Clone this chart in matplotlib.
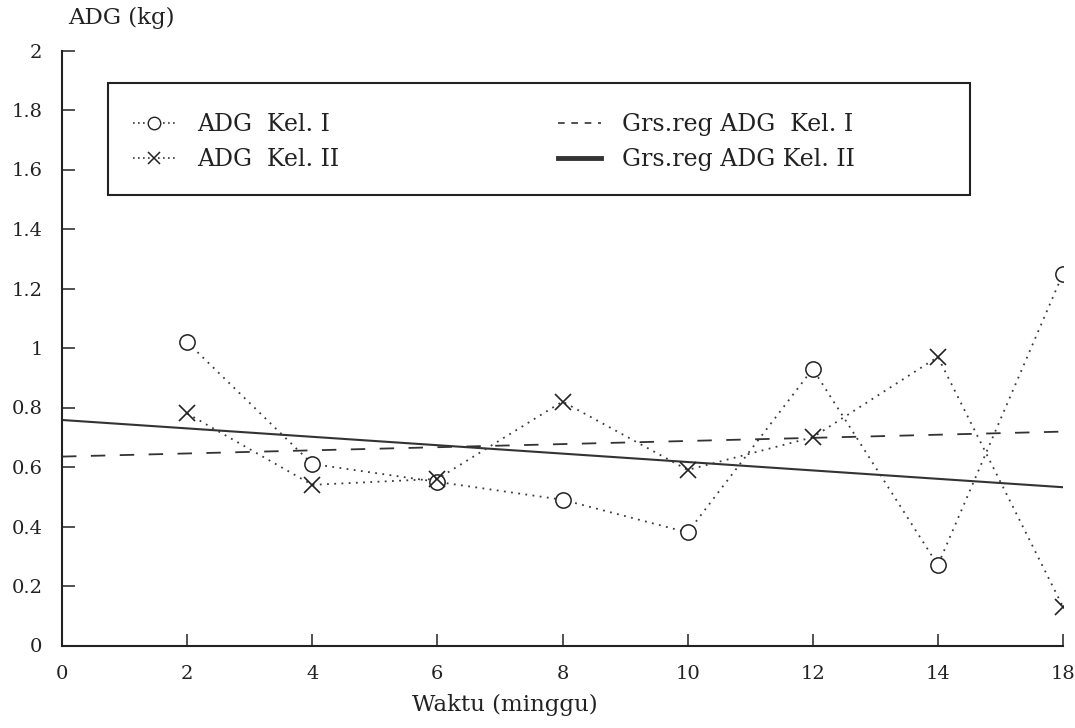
import numpy as np
import matplotlib
matplotlib.use("Agg")
import matplotlib.pyplot as plt
from matplotlib.lines import Line2D
from matplotlib.patches import Rectangle

# ---- data ----
x_tick_labels = ["0", "2", "4", "6", "8", "10", "12", "14", "18"]
adg_kel1 = [1.02, 0.61, 0.55, 0.49, 0.38, 0.93, 0.27, 1.25]
adg_kel2 = [0.78, 0.54, 0.56, 0.82, 0.59, 0.70, 0.97, 0.13]
reg_kel1 = [0.635, 0.719]   # regression line at first / last axis position
reg_kel2 = [0.758, 0.532]
y_ticks = [0, 0.2, 0.4, 0.6, 0.8, 1.0, 1.2, 1.4, 1.6, 1.8, 2.0]
y_tick_labels = ["0", "0.2", "0.4", "0.6", "0.8", "1", "1.2", "1.4", "1.6", "1.8", "2"]

label_k1 = "ADG  Kel. I"
label_k2 = "ADG  Kel. II"
label_r1 = "Grs.reg ADG  Kel. I"
label_r2 = "Grs.reg ADG Kel. II"

# positions on the (evenly spaced) axis
x_pos = np.arange(len(x_tick_labels)) * 2
pts_x = x_pos[1:]
reg_x = [x_pos[0], x_pos[-1]]

plt.rcParams['font.family'] = ['DejaVu Serif']
W, H = 1075, 728
fig = plt.figure(figsize=(W / 100, H / 100), dpi=100)
ax = fig.add_axes([62 / W, 82.5 / H, (1063 - 62) / W, (645.5 - 50.5) / H])

dot_col = '#3a3a3a'
ax.plot(pts_x, adg_kel1, linestyle=(0, (1, 3)), lw=1.3, color=dot_col,
        marker='o', ms=11, mfc='white', mec='#222222', mew=1.1, zorder=3)
ax.plot(pts_x, adg_kel2, linestyle=(0, (1, 3)), lw=1.3, color=dot_col,
        marker='x', ms=11, mec='#222222', mew=1.2, zorder=3)
ax.plot(reg_x, reg_kel1, linestyle=(0, (8, 8)), lw=1.3, color='#333333', zorder=2)
ax.plot(reg_x, reg_kel2, linestyle='-', lw=1.5, color='#333333', zorder=2)

ax.set_xlim(x_pos[0], x_pos[-1])
ax.set_ylim(0, 2)
ax.set_xticks(x_pos)
ax.set_xticklabels(x_tick_labels)
ax.set_yticks(y_ticks)
ax.set_yticklabels(y_tick_labels)
ax.spines['top'].set_visible(False)
ax.spines['right'].set_visible(False)
for s in ('left', 'bottom'):
    ax.spines[s].set_linewidth(1.5)
    ax.spines[s].set_color('#222222')
ax.tick_params(direction='in', length=9, width=1.1, color='#222222',
               labelsize=14, labelcolor='#222222', pad=14)
ax.tick_params(axis='x', pad=14)

fig.text(121 / W, 1 - 18 / H, "ADG (kg)", ha='center', va='center',
         fontsize=16.5, color='#222222')
fig.text(505 / W, 1 - 705 / H, "Waktu (minggu)", ha='center', va='center',
         fontsize=16.5, color='#222222')

# legend
h1 = Line2D([], [], linestyle=(0, (1, 2)), lw=1.2, color=dot_col, marker='o',
            ms=9, mfc='white', mec='#222222', mew=1.0)
h2 = Line2D([], [], linestyle=(0, (1, 2)), lw=1.2, color=dot_col, marker='x',
            ms=9, mec='#222222', mew=1.1)
h3 = Line2D([], [], linestyle=(0, (4, 4)), lw=1.2, color='#333333')
h4 = Line2D([], [], linestyle='-', lw=3.5, color='#333333')

common = dict(frameon=False, loc='upper left', borderpad=0, borderaxespad=0,
              handlelength=1.8, handletextpad=0.9, labelspacing=0.5,
              fontsize=17, bbox_transform=fig.transFigure, labelcolor='#222222')
leg1 = ax.legend([h1, h2], [label_k1, label_k2],
                 bbox_to_anchor=(133 / W, 1 - 113 / H), **common)
ax.add_artist(leg1)
leg2 = ax.legend([h3, h4], [label_r1, label_r2],
                 bbox_to_anchor=(558 / W, 1 - 113 / H), **common)

fig.patches.append(Rectangle((108 / W, 1 - 195 / H), (970 - 108) / W, (195 - 83) / H,
                             transform=fig.transFigure, fill=False,
                             edgecolor='#222222', lw=1.5))

fig.savefig("out.png", dpi=100)
